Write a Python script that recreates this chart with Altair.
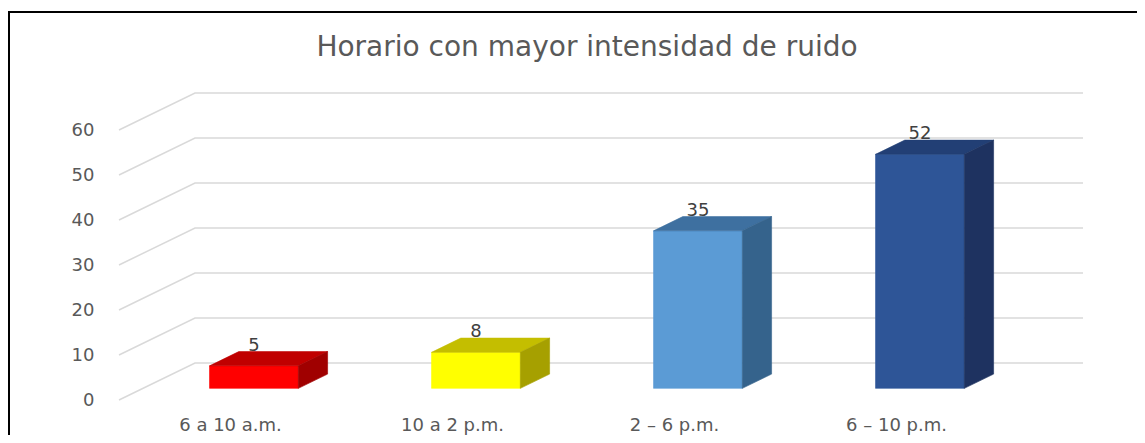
import json
import altair as alt
import pandas as pd

# ---------------- data ----------------
title_text = "Horario con mayor intensidad de ruido"
categories = ["6 a 10 a.m.", "10 a 2 p.m.", "2 – 6 p.m.", "6 – 10 p.m."]
values = [5, 8, 35, 52]
front_colors = ["#FF0000", "#FFFF00", "#5B9BD5", "#2E5597"]
top_colors = ["#C00000", "#C4BE00", "#3E70A0", "#223F75"]
side_colors = ["#A00000", "#A6A000", "#35638C", "#1E3260"]
y_ticks = [0, 10, 20, 30, 40, 50, 60]

# ---------------- oblique 3D projection (in data units) ----------------
DX = 76 / 222      # x shift (category units) for full depth
DY = 37 / 4.5      # y shift (value units) for full depth
D0, D1 = 0.315, 0.70   # bar front / back depth
HW = 0.2               # bar half width
SDX = (D1 - D0) * DX
SDY = (D1 - D0) * DY

W, H = 1037, 340
X_DOM = [-130 / 222, (130 + 0 + W - 130) / 222 - 130 / 222 + 0]  # placeholder, fixed below
X_DOM = [-130 / 222, (W - 130) / 222]
Y_DOM = [-8 / 4.5, 332 / 4.5]

xs = alt.Scale(domain=X_DOM, nice=False, zero=False)
ys = alt.Scale(domain=Y_DOM, nice=False, zero=False)

# gridlines (left diagonal + back wall line)
grid_rows = []
for v in y_ticks:
    grid_rows.append({"v": v, "o": 0, "x": -0.5, "y": v})
    grid_rows.append({"v": v, "o": 1, "x": -0.5 + DX, "y": v + DY})
    grid_rows.append({"v": v, "o": 2, "x": 3.5 + DX, "y": v + DY})
grid_df = pd.DataFrame(grid_rows)

front_rows, top_rows, side_rows, lab_rows = [], [], [], []
for i, (cat, v) in enumerate(zip(categories, values)):
    xl = i - HW + D0 * DX
    xr = i + HW + D0 * DX
    yb = D0 * DY
    yt = v + D0 * DY
    front_rows.append({"id": i, "x": xl, "x2": xr, "y": yb, "y2": yt, "c": front_colors[i]})
    for px, py, py2 in [(xl, yt, yt), (xl + SDX, yt, yt + SDY),
                        (xr, yt, yt + SDY), (xr + SDX, yt + SDY, yt + SDY)]:
        top_rows.append({"id": i, "x": px, "y": py, "y2": py2, "c": top_colors[i]})
    for px, py, py2 in [(xr, yb, yt), (xr + SDX, yb + SDY, yt + SDY)]:
        side_rows.append({"id": i, "x": px, "y": py, "y2": py2, "c": side_colors[i]})
    lab_rows.append({"x": i + D0 * DX, "y": yt, "t": str(v)})

front_df = pd.DataFrame(front_rows)
top_df = pd.DataFrame(top_rows)
side_df = pd.DataFrame(side_rows)
lab_df = pd.DataFrame(lab_rows)

label_expr = json.dumps(categories) + "[datum.value]"

grid = alt.Chart(grid_df).mark_line(color="#D9D9D9", strokeWidth=1.5).encode(
    x=alt.X("x:Q", scale=xs,
            axis=alt.Axis(values=[0, 1, 2, 3], labelExpr=label_expr, title=None,
                          domain=False, ticks=False, grid=False, labelPadding=8,
                          labelFontSize=18, labelColor="#595959", labelFont="DejaVu Sans",
                          labelOverlap=False, labelFlush=False)),
    y=alt.Y("y:Q", scale=ys,
            axis=alt.Axis(values=y_ticks, title=None, domain=False, ticks=False, grid=False,
                          labelPadding=6, labelFontSize=18, labelColor="#595959",
                          labelFont="DejaVu Sans")),
    detail="v:N",
    order="o:Q",
)

front = alt.Chart(front_df).mark_rect(strokeWidth=0.6).encode(
    x=alt.X("x:Q", scale=xs), x2="x2", y=alt.Y("y:Q", scale=ys), y2="y2",
    fill=alt.Fill("c:N", scale=None), stroke=alt.Stroke("c:N", scale=None),
)

top = alt.Chart(top_df).mark_area(strokeWidth=0.6).encode(
    x=alt.X("x:Q", scale=xs), y=alt.Y("y:Q", scale=ys), y2="y2",
    detail="id:N",
    fill=alt.Fill("c:N", scale=None), stroke=alt.Stroke("c:N", scale=None),
)

side = alt.Chart(side_df).mark_area(strokeWidth=0.6).encode(
    x=alt.X("x:Q", scale=xs), y=alt.Y("y:Q", scale=ys), y2="y2",
    detail="id:N",
    fill=alt.Fill("c:N", scale=None), stroke=alt.Stroke("c:N", scale=None),
)

labels = alt.Chart(lab_df).mark_text(
    fontSize=18, font="DejaVu Sans", color="#404040", baseline="middle", align="center", dy=-20
).encode(x=alt.X("x:Q", scale=xs), y=alt.Y("y:Q", scale=ys), text="t:N")

title = alt.Chart(pd.DataFrame({"t": [title_text]})).mark_text(
    fontSize=28, font="DejaVu Sans", color="#595959", baseline="alphabetic", align="center"
).encode(x=alt.value(487), y=alt.value(-12), text="t:N")

frame = alt.Chart(pd.DataFrame({"a": [0]})).mark_rect(
    fillOpacity=0, stroke="black", strokeWidth=2
).encode(x=alt.value(-91), y=alt.value(-56), x2=alt.value(W + 60), y2=alt.value(H + 80))

chart = alt.layer(grid, front, top, side, labels, title, frame).properties(
    width=W, height=H,
    autosize=alt.AutoSizeParams(type="none"),
    padding={"left": 92, "top": 60, "right": 0, "bottom": 27},
).configure(background="white", view=alt.ViewConfig(stroke=None))

chart.save("out.html", embed_options={"renderer": "svg", "actions": False})
